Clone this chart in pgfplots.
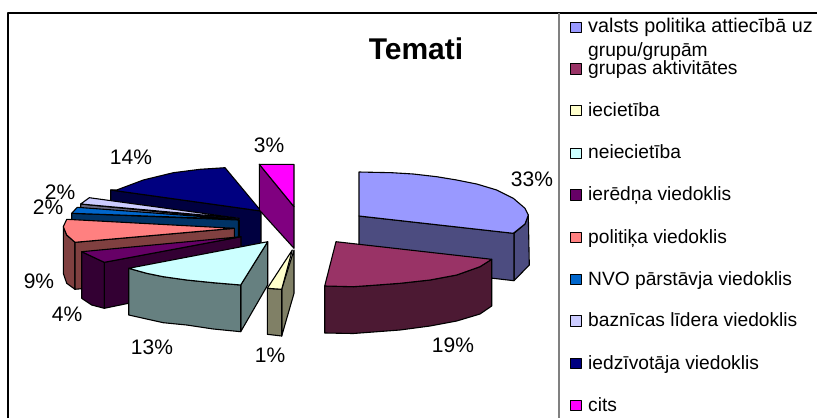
\documentclass[border=0pt]{standalone}
\usepackage{fontspec}
\setmainfont{Liberation Sans}
\usepackage{pgfplots}
\pgfplotsset{compat=1.18}
\definecolor{a1}{HTML}{9999FF}\definecolor{a1d}{HTML}{4C4C80}
\definecolor{a2}{HTML}{993366}\definecolor{a2d}{HTML}{4C1933}
\definecolor{a3}{HTML}{FFFFCC}\definecolor{a3d}{HTML}{808066}
\definecolor{a4}{HTML}{CCFFFF}\definecolor{a4d}{HTML}{668080}
\definecolor{a5}{HTML}{660066}\definecolor{a5d}{HTML}{330033}
\definecolor{a6}{HTML}{FF8080}\definecolor{a6d}{HTML}{804040}
\definecolor{a7}{HTML}{0066CC}\definecolor{a7d}{HTML}{003366}
\definecolor{a8}{HTML}{CCCCFF}\definecolor{a8d}{HTML}{666680}
\definecolor{a9}{HTML}{000080}\definecolor{a9d}{HTML}{000040}
\definecolor{a10}{HTML}{FF00FF}\definecolor{a10d}{HTML}{800080}
\tikzset{lab/.style={font=\fontsize{21}{24}\selectfont,anchor=center,inner sep=0pt},
 leg/.style={font=\fontsize{19.2}{21}\selectfont,anchor=base west,inner sep=0pt}}
\begin{document}
\begin{tikzpicture}
\path[use as bounding box] (0,0) rectangle (817pt,418pt);
\begin{axis}[at={(0,0)},anchor=south west,scale only axis,width=817pt,height=418pt,xmin=0,xmax=817,ymin=0,ymax=418,y dir=reverse,hide axis,
 every axis plot/.append style={mark=none,draw=black,line width=1.1pt,line join=round}]
% frame
\addplot[line width=1.5pt] coordinates {(8,418)(8,13)(817,13)};
\addplot[draw=gray,line width=1.5pt] coordinates {(559,13)(559,418)};
% slice 9
\addplot[fill=a9d] coordinates {(110.7,190)(261,211)(261,258)(110.7,237)} --cycle;
\addplot[fill=a9] coordinates {(110.7,190)(116.7,190)(143.3,180)(173.3,172.7)(200,169.3)(225,167.7)(261,211)} --cycle;
% slice 10
\addplot[fill=a10d] coordinates {(259.3,164.3)(294,206.7)(294,248.3)(259.3,210)} --cycle;
\addplot[fill=a10] coordinates {(259.3,164.3)(294,164.3)(294,206.7)} --cycle;
% slice 8
\addplot[fill=a8d] coordinates {(80.7,204)(239.3,220)(239.3,266)(80.7,250)} --cycle;
\addplot[fill=a8] coordinates {(80.7,204)(89.3,197.7)(239.3,218.3)} --cycle;
% slice 7
\addplot[fill=a7d] coordinates {(71.7,213.3)(238.3,220)(238.3,265)(71.7,258)} --cycle;
\addplot[fill=a7] coordinates {(71.7,213.3)(77.3,207.3)(238.3,219.3)} --cycle;
% slice 6
\addplot[fill=a6d] coordinates {(63.3,226.7)(66.7,235)(75,242.3)(75,289.3)(66.7,283.3)(63.3,273.3)} --cycle;
\addplot[fill=a6d] coordinates {(75,242.3)(234.3,228.3)(234.3,275)(75,289.3)} --cycle;
\addplot[fill=a6] coordinates {(66.7,219.3)(63.3,226.7)(66.7,235)(75,242.3)(234.3,228.3)} --cycle;
% slice 5
\addplot[fill=a5d] coordinates {(81.7,251.7)(104.3,262.3)(104.3,308.3)(91.7,305)(81.7,298.3)} --cycle;
\addplot[fill=a5d] coordinates {(104.3,262.3)(241,236.7)(241,280)(104.3,308.3)} --cycle;
\addplot[fill=a5] coordinates {(81.7,251.7)(241,236.7)(104.3,262.3)} --cycle;
% slice 4
\addplot[fill=a4d] coordinates {(240.7,285)(267.7,241.7)(267.7,285)(240.7,331.7)} --cycle;
\addplot[fill=a4d] coordinates {(128.7,268.3)(146.7,273.3)(163.3,276.7)(186.7,280)(213.3,282.7)(240.7,285)(240.7,331.7)(213.3,329)(186.7,325)(163.3,322.7)(128.7,315)} --cycle;
\addplot[fill=a4] coordinates {(267.7,241.7)(240.7,285)(213.3,282.7)(186.7,280)(163.3,276.7)(146.7,273.3)(128.7,268.3)} --cycle;
% slice 3
\addplot[fill=a3d] coordinates {(281.7,289.3)(294,250)(294,293.3)(281.7,336)} --cycle;
\addplot[fill=a3d] coordinates {(267.3,288.3)(281.7,289.3)(281.7,336)(267.3,334.3)} --cycle;
\addplot[fill=a3] coordinates {(292.3,250)(267.3,288.3)(281.7,289.3)} --cycle;
% slice 1
\addplot[fill=a1d] coordinates {(514,233.3)(525,224)(528.3,215)(529.3,265)(514,280.7)} --cycle;
\addplot[fill=a1d] coordinates {(359,216)(514,233.3)(514,280.7)(359,263)} --cycle;
\addplot[fill=a1] coordinates {(359,172)(391.7,172.7)(413.3,174)(436.7,176.7)(456.7,180)(476.7,184)(496.7,190)(513.3,198.3)(525,208.3)(528.3,215)(525,224)(513.3,233.3)(359,216)} --cycle;
% slice 2
\addplot[fill=a2d] coordinates {(491.7,259.3)(480,266.7)(456.7,275)(430,280)(400,283.3)(373.3,285.3)(353.3,286.7)(324.7,286)(324.7,333)(353.3,333.5)(373.3,332)(400,330)(430,326)(456.7,321)(480,314)(491.7,306)} --cycle;
\addplot[fill=a2] coordinates {(336,241.7)(491.7,259.3)(480,266.7)(456.7,275)(430,280)(400,283.3)(373.3,285.3)(353.3,286.7)(324.7,286)} --cycle;
% legend markers
\addplot[only marks,mark=square*,mark size=5.2pt,line width=1pt,mark options={fill=a1,draw=black}] coordinates {(576,27.3)};
\addplot[only marks,mark=square*,mark size=5.2pt,line width=1pt,mark options={fill=a2,draw=black}] coordinates {(576,69)};
\addplot[only marks,mark=square*,mark size=5.2pt,line width=1pt,mark options={fill=a3,draw=black}] coordinates {(576,110.7)};
\addplot[only marks,mark=square*,mark size=5.2pt,line width=1pt,mark options={fill=a4,draw=black}] coordinates {(576,153.3)};
\addplot[only marks,mark=square*,mark size=5.2pt,line width=1pt,mark options={fill=a5,draw=black}] coordinates {(576,195)};
\addplot[only marks,mark=square*,mark size=5.2pt,line width=1pt,mark options={fill=a6,draw=black}] coordinates {(576,237.3)};
\addplot[only marks,mark=square*,mark size=5.2pt,line width=1pt,mark options={fill=a7,draw=black}] coordinates {(576,279.3)};
\addplot[only marks,mark=square*,mark size=5.2pt,line width=1pt,mark options={fill=a8,draw=black}] coordinates {(576,321)};
\addplot[only marks,mark=square*,mark size=5.2pt,line width=1pt,mark options={fill=a9,draw=black}] coordinates {(576,363.3)};
\addplot[only marks,mark=square*,mark size=5.2pt,line width=1pt,mark options={fill=a10,draw=black}] coordinates {(576,405.7)};
% legend text
\node[leg,font=\fontsize{19.8}{21}\selectfont] at (axis cs:588,32.3) {valsts politika attiecībā uz};
\node[leg] at (axis cs:588,56) {grupu/grupām};
\node[leg] at (axis cs:588,74) {grupas aktivitātes};
\node[leg] at (axis cs:588,116) {iecietība};
\node[leg] at (axis cs:588,158) {neiecietība};
\node[leg] at (axis cs:588,200) {ierēdņa viedoklis};
\node[leg] at (axis cs:588,243.3) {politiķa viedoklis};
\node[leg] at (axis cs:588,285) {NVO pārstāvja viedoklis};
\node[leg] at (axis cs:588,326.7) {baznīcas līdera viedoklis};
\node[leg] at (axis cs:588,369) {iedzīvotāja viedoklis};
\node[leg] at (axis cs:588,411) {cits};
% title and data labels
\node[font=\fontsize{30}{34}\selectfont\bfseries,anchor=center,inner sep=0pt] at (axis cs:416,49) {Temati};
\node[lab] at (axis cs:532,179) {33\%};
\node[lab] at (axis cs:453,345) {19\%};
\node[lab] at (axis cs:270,355) {1\%};
\node[lab] at (axis cs:152,347) {13\%};
\node[lab] at (axis cs:67,314) {4\%};
\node[lab] at (axis cs:39,281) {9\%};
\node[lab] at (axis cs:60,192) {2\%};
\node[lab] at (axis cs:48,207) {2\%};
\node[lab] at (axis cs:131,157) {14\%};
\node[lab] at (axis cs:269,145) {3\%};
\end{axis}
\end{tikzpicture}
\end{document}
